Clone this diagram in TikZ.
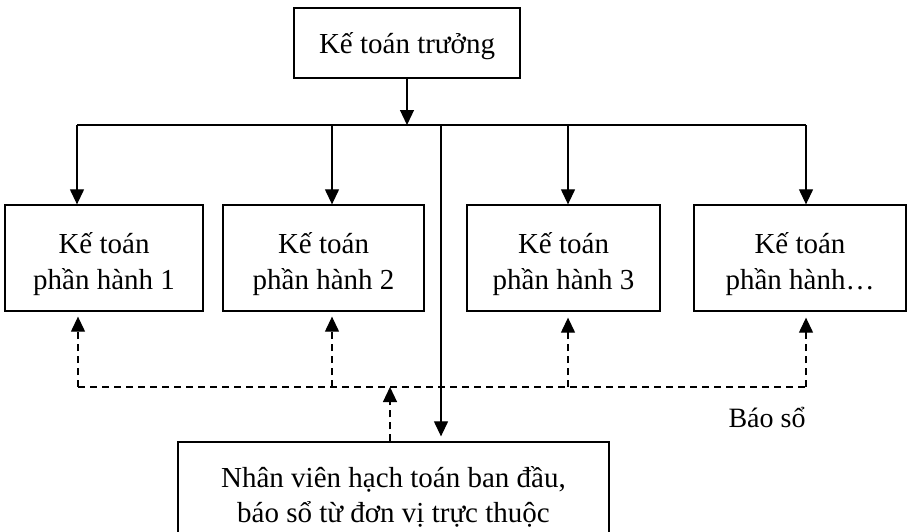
\documentclass[tikz,border=0pt]{standalone}
\usepackage{fontspec}
\setmainfont{Liberation Serif}
\usetikzlibrary{arrows.meta}
\begin{document}
\begin{tikzpicture}[x=1pt,y=-1pt,
  box/.style={draw,line width=1.3pt,inner sep=0pt},
  txt/.style={align=center,inner sep=0pt,font=\fontsize{29}{35.5}\selectfont},
  link/.style={line width=1.2pt},
  tip/.style={-{Triangle[length=15pt,width=14pt]}},
  dash line/.style={line width=1.2pt,dash pattern=on 7pt off 5pt}]
\useasboundingbox (0,0) rectangle (909,531);
\clip (0,0) rectangle (909,531);

% boxes
\node[box,minimum width=226pt,minimum height=70pt] (top) at (407,43) {};
\node[box,minimum width=198pt,minimum height=106pt] (b1) at (104,258) {};
\node[box,minimum width=201pt,minimum height=106pt] (b2) at (323.5,258) {};
\node[box,minimum width=193pt,minimum height=106pt] (b3) at (563.5,258) {};
\node[box,minimum width=212pt,minimum height=106pt] (b4) at (800,258) {};
\node[box,minimum width=431pt,minimum height=100pt] (bot) at (393.5,492) {};

% box texts
\node[txt] (topt) at ([yshift=-3pt]top.center) {Kế toán trưởng};
\node[txt] (b1t) at ([yshift=-6pt]b1.center) {Kế toán\\phần hành 1};
\node[txt] (b2t) at ([yshift=-6pt]b2.center) {Kế toán\\phần hành 2};
\node[txt] (b3t) at ([yshift=-6pt]b3.center) {Kế toán\\phần hành 3};
\node[txt] (b4t) at ([yshift=-6pt]b4.center) {Kế toán\\phần hành…};
\node[txt] (bott) at (393.5,497) {Nhân viên hạch toán ban đầu,\\báo sổ từ đơn vị trực thuộc};

% solid distribution bus
\coordinate (hub) at (407,125);
\coordinate (h1) at (77,125);
\coordinate (h2) at (332,125);
\coordinate (hv) at (441,125);
\coordinate (h3) at (568,125);
\coordinate (h4) at (806,125);
\draw[link,tip] (top.south) -- (hub);
\draw[link] (h1) -- (h4);
\draw[link,tip] (h1) -- (h1 |- b1.north);
\draw[link,tip] (h2) -- (h2 |- b2.north);
\draw[link,tip] (h3) -- (h3 |- b3.north);
\draw[link,tip] (h4) -- (h4 |- b4.north);
\draw[link,tip,shorten >=5pt] (hv) -- (hv |- bot.north);

% dashed reporting lines
\coordinate (d1) at (78,387);
\coordinate (d2) at (332,387);
\coordinate (d3) at (568,387);
\coordinate (d4) at (806,387);
\coordinate (dm) at (390,387);
\draw[dash line] (d1) -- (d4);
\draw[dash line,tip,shorten >=5pt] (d1) -- (d1 |- b1.south);
\draw[dash line,tip,shorten >=5pt] (d2) -- (d2 |- b2.south);
\draw[dash line,tip,shorten >=6pt] (d3) -- (d3 |- b3.south);
\draw[dash line,tip,shorten >=6pt] (d4) -- (d4 |- b4.south);
\draw[dash line,tip] (dm |- bot.north) -- (dm);

\node[font=\fontsize{28}{35}\selectfont] (bs) at (767,417) {Báo sổ};
\end{tikzpicture}
\end{document}
